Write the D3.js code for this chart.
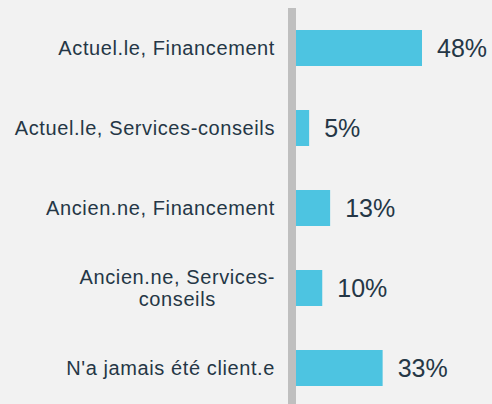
<!DOCTYPE html>
<html>
<head>
<meta charset="utf-8">
<script src="https://cdn.jsdelivr.net/npm/d3@7"></script>
<style>
  body { margin: 0; background: #f2f2f2; }
  svg { display: block; }
  .cat-label { font-family: "Liberation Sans", Arial, sans-serif; font-size: 20px; letter-spacing: 0.6px; fill: #253746; }
  .val-label { font-family: "Liberation Sans", Arial, sans-serif; font-size: 25px; fill: #253746; }
</style>
</head>
<body>
<svg id="chart" width="492" height="404"></svg>
<script>
// Data
const categories = [
  "Actuel.le, Financement",
  "Actuel.le, Services-conseils",
  "Ancien.ne, Financement",
  "Ancien.ne, Services-conseils",
  "N'a jamais été client.e"
];
// label lines (the fourth label wraps onto two lines)
const labelLines = [
  ["Actuel.le, Financement"],
  ["Actuel.le, Services-conseils"],
  ["Ancien.ne, Financement"],
  ["Ancien.ne, Services-", "conseils"],
  ["N'a jamais été client.e"]
];
const values = [48, 5, 13, 10, 33];

const svg = d3.select('#chart');
const width = 492;
const height = 404;

// Axis sits at x ~ 292, bars start right after it
const axisX = 292;
const barStart = 296;

const data = categories.map((c, i) => ({ cat: c, value: values[i], lines: labelLines[i] }));

// Scales
const xScale = d3.scaleLinear()
  .domain([0, 48])
  .range([barStart, 422]);

const yScale = d3.scaleBand()
  .domain(categories)
  .range([8, 408])
  .paddingInner(0.55)
  .paddingOuter(0.275);

// Background
svg.append('rect')
  .attr('width', width)
  .attr('height', height)
  .attr('fill', '#f2f2f2');

// Bars
svg.selectAll('.bar')
  .data(data)
  .enter()
  .append('rect')
  .attr('class', 'bar')
  .attr('x', xScale(0))
  .attr('y', d => yScale(d.cat))
  .attr('width', d => xScale(d.value) - xScale(0))
  .attr('height', yScale.bandwidth())
  .attr('fill', '#4dc4e1');

// Vertical axis line
svg.append('line')
  .attr('x1', axisX)
  .attr('x2', axisX)
  .attr('y1', 8)
  .attr('y2', height)
  .attr('stroke', '#bfbfbf')
  .attr('stroke-width', 8);

// Category labels, right aligned against the axis
const labelRight = 275;
const lineHeight = 22;
data.forEach(d => {
  const cy = yScale(d.cat) + yScale.bandwidth() / 2;
  const n = d.lines.length;
  const text = svg.append('text')
    .attr('class', 'cat-label')
    .attr('dominant-baseline', 'central');
  if (n === 1) {
    text.attr('x', labelRight)
      .attr('y', cy)
      .attr('text-anchor', 'end')
      .text(d.lines[0]);
  } else {
    // multi-line labels are centred within a block that ends at labelRight
    const tmp = svg.append('text').attr('class', 'cat-label').text(d.lines[0]);
    const w = tmp.node().getComputedTextLength();
    tmp.remove();
    const centre = labelRight - w / 2;
    text.attr('text-anchor', 'middle');
    d.lines.forEach((line, i) => {
      text.append('tspan')
        .attr('x', centre)
        .attr('y', cy + (i - (n - 1) / 2) * lineHeight)
        .text(line);
    });
  }
});

// Value labels
svg.selectAll('.val-label')
  .data(data)
  .enter()
  .append('text')
  .attr('class', 'val-label')
  .attr('x', d => xScale(d.value) + 15)
  .attr('y', d => yScale(d.cat) + yScale.bandwidth() / 2)
  .attr('dominant-baseline', 'central')
  .text(d => `${d.value}%`);
</script>
</body>
</html>
